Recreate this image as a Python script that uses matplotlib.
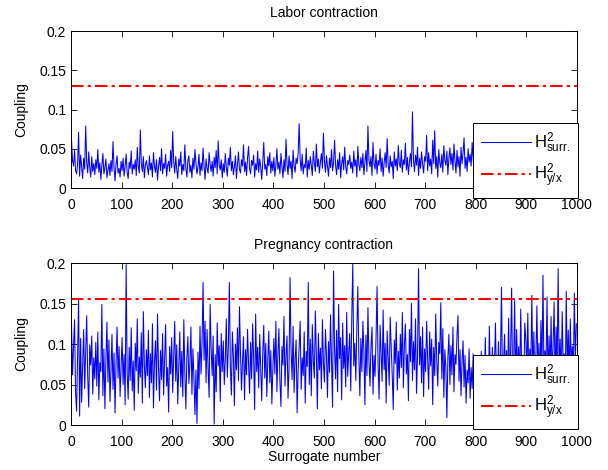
import numpy as np
import matplotlib
matplotlib.use('Agg')
import matplotlib.pyplot as plt
from matplotlib.ticker import FormatStrFormatter

plt.rcParams['font.family'] = ['Liberation Sans', 'DejaVu Sans']
plt.rcParams['mathtext.fontset'] = 'custom'
plt.rcParams['mathtext.rm'] = 'Liberation Sans'
plt.rcParams['mathtext.it'] = 'Liberation Sans'

# surrogate values, every second surrogate (1, 3, 5, ... 999)
surrogate = np.arange(1, 1001, 2)

labor_surr = [
    0.061, 0.035, 0.028, 0.048, 0.022, 0.018, 0.030, 0.071, 0.015, 0.042, 0.027, 0.012, 0.038, 0.024, 0.079, 0.033, 0.019, 0.046, 0.026, 0.014, 0.040, 0.021, 0.031, 0.017, 0.036,
    0.025, 0.049, 0.020, 0.032, 0.011, 0.029, 0.044, 0.018, 0.026, 0.037, 0.013, 0.023, 0.031, 0.016, 0.035, 0.021, 0.059, 0.027, 0.009, 0.030, 0.041, 0.019, 0.025, 0.014, 0.034,
    0.022, 0.038, 0.015, 0.028, 0.043, 0.020, 0.012, 0.033, 0.025, 0.047, 0.018, 0.030, 0.024, 0.036, 0.016, 0.052, 0.027, 0.019, 0.074, 0.031, 0.021, 0.040, 0.013, 0.029, 0.035,
    0.026, 0.017, 0.041, 0.023, 0.032, 0.014, 0.045, 0.028, 0.020, 0.036, 0.010, 0.027, 0.039, 0.022, 0.050, 0.018, 0.031, 0.025, 0.043, 0.015, 0.029, 0.034, 0.021, 0.048, 0.026,
    0.072, 0.033, 0.019, 0.040, 0.024, 0.012, 0.037, 0.028, 0.046, 0.017, 0.030, 0.022, 0.055, 0.026, 0.014, 0.035, 0.041, 0.020, 0.029, 0.013, 0.038, 0.024, 0.049, 0.031, 0.018,
    0.027, 0.043, 0.016, 0.032, 0.022, 0.051, 0.028, 0.011, 0.037, 0.025, 0.019, 0.045, 0.030, 0.021, 0.034, 0.015, 0.039, 0.026, 0.048, 0.018, 0.060, 0.029, 0.023, 0.036, 0.013,
    0.031, 0.020, 0.044, 0.026, 0.015, 0.038, 0.029, 0.052, 0.022, 0.034, 0.017, 0.027, 0.041, 0.012, 0.030, 0.046, 0.024, 0.019, 0.036, 0.028, 0.055, 0.021, 0.033, 0.016, 0.039,
    0.053, 0.025, 0.018, 0.035, 0.029, 0.042, 0.014, 0.031, 0.023, 0.047, 0.020, 0.037, 0.027, 0.011, 0.033, 0.058, 0.024, 0.030, 0.016, 0.040, 0.028, 0.045, 0.019, 0.034, 0.022,
    0.039, 0.015, 0.029, 0.050, 0.024, 0.033, 0.018, 0.044, 0.027, 0.013, 0.036, 0.021, 0.062, 0.030, 0.017, 0.041, 0.025, 0.034, 0.012, 0.048, 0.028, 0.020, 0.038, 0.031, 0.045,
    0.082, 0.036, 0.022, 0.043, 0.018, 0.030, 0.026, 0.051, 0.014, 0.035, 0.024, 0.040, 0.029, 0.016, 0.047, 0.032, 0.021, 0.056, 0.027, 0.037, 0.019, 0.033, 0.044, 0.025, 0.070,
    0.034, 0.020, 0.041, 0.028, 0.015, 0.038, 0.026, 0.049, 0.022, 0.032, 0.061, 0.029, 0.017, 0.036, 0.024, 0.045, 0.013, 0.031, 0.040, 0.023, 0.052, 0.027, 0.018, 0.035, 0.030,
    0.042, 0.025, 0.033, 0.019, 0.047, 0.028, 0.036, 0.014, 0.053, 0.030, 0.022, 0.039, 0.026, 0.044, 0.017, 0.032, 0.048, 0.021, 0.079, 0.035, 0.027, 0.040, 0.016, 0.058, 0.031,
    0.024, 0.043, 0.018, 0.035, 0.029, 0.050, 0.021, 0.038, 0.015, 0.032, 0.045, 0.026, 0.063, 0.030, 0.019, 0.041, 0.027, 0.034, 0.012, 0.046, 0.028, 0.037, 0.022, 0.054, 0.031,
    0.026, 0.048, 0.020, 0.036, 0.030, 0.057, 0.023, 0.039, 0.017, 0.033, 0.044, 0.027, 0.097, 0.035, 0.021, 0.042, 0.029, 0.052, 0.016, 0.038, 0.025, 0.046, 0.031, 0.019, 0.040,
    0.034, 0.067, 0.022, 0.045, 0.028, 0.037, 0.018, 0.061, 0.031, 0.073, 0.025, 0.040, 0.014, 0.049, 0.032, 0.026, 0.043, 0.020, 0.054, 0.035, 0.029, 0.047, 0.017, 0.038, 0.051,
    0.030, 0.044, 0.023, 0.056, 0.034, 0.019, 0.048, 0.027, 0.040, 0.015, 0.052, 0.031, 0.045, 0.064, 0.025, 0.039, 0.021, 0.050, 0.033, 0.043, 0.028, 0.058, 0.036, 0.024, 0.047,
    0.067, 0.035, 0.054, 0.029, 0.046, 0.038, 0.060, 0.026, 0.049, 0.033, 0.041, 0.022, 0.055, 0.037, 0.030, 0.044, 0.019, 0.036, 0.048, 0.027, 0.039, 0.032, 0.051, 0.024, 0.042,
    0.031, 0.045, 0.022, 0.038, 0.028, 0.053, 0.034, 0.017, 0.040, 0.026, 0.047, 0.030, 0.021, 0.036, 0.044, 0.025, 0.058, 0.032, 0.019, 0.041, 0.029, 0.035, 0.050, 0.023, 0.037,
    0.027, 0.043, 0.018, 0.034, 0.049, 0.024, 0.031, 0.039, 0.015, 0.046, 0.028, 0.055, 0.022, 0.035, 0.030, 0.042, 0.020, 0.037, 0.026, 0.048, 0.033, 0.016, 0.040, 0.029, 0.052,
    0.025, 0.038, 0.031, 0.045, 0.019, 0.034, 0.027, 0.050, 0.022, 0.041, 0.030, 0.036, 0.017, 0.044, 0.028, 0.033, 0.047, 0.021, 0.039, 0.026, 0.054, 0.032, 0.024, 0.043, 0.035,
]

pregnancy_surr = [
    0.125, 0.062, 0.098, 0.130, 0.040, 0.017, 0.085, 0.155, 0.011, 0.107, 0.028, 0.071, 0.118, 0.045, 0.090, 0.135, 0.060, 0.022, 0.099, 0.074, 0.110, 0.038, 0.083, 0.057, 0.102,
    0.048, 0.115, 0.031, 0.077, 0.066, 0.149, 0.036, 0.094, 0.020, 0.081, 0.127, 0.053, 0.105, 0.029, 0.068, 0.112, 0.044, 0.089, 0.015, 0.076, 0.121, 0.058, 0.097, 0.035, 0.070,
    0.108, 0.050, 0.087, 0.025, 0.198, 0.064, 0.032, 0.096, 0.055, 0.120, 0.042, 0.079, 0.018, 0.101, 0.067, 0.131, 0.039, 0.084, 0.059, 0.114, 0.027, 0.140, 0.073, 0.046, 0.093,
    0.061, 0.117, 0.034, 0.088, 0.052, 0.125, 0.021, 0.078, 0.104, 0.043, 0.137, 0.069, 0.030, 0.092, 0.056, 0.113, 0.037, 0.082, 0.124, 0.048, 0.071, 0.016, 0.097, 0.063, 0.108,
    0.040, 0.086, 0.128, 0.054, 0.099, 0.026, 0.072, 0.115, 0.047, 0.091, 0.035, 0.130, 0.065, 0.020, 0.083, 0.109, 0.051, 0.075, 0.121, 0.038, 0.094, 0.058, 0.013, 0.068, 0.002,
    0.090, 0.045, 0.122, 0.063, 0.101, 0.176, 0.080, 0.128, 0.052, 0.118, 0.070, 0.034, 0.149, 0.095, 0.061, 0.110, 0.001, 0.087, 0.041, 0.126, 0.073, 0.098, 0.029, 0.113, 0.066,
    0.104, 0.050, 0.082, 0.131, 0.059, 0.096, 0.176, 0.072, 0.037, 0.115, 0.085, 0.024, 0.100, 0.068, 0.120, 0.055, 0.146, 0.090, 0.043, 0.078, 0.109, 0.031, 0.093, 0.062, 0.118,
    0.075, 0.039, 0.102, 0.057, 0.125, 0.084, 0.019, 0.137, 0.066, 0.096, 0.046, 0.112, 0.071, 0.030, 0.089, 0.123, 0.058, 0.101, 0.035, 0.080, 0.116, 0.052, 0.092, 0.026, 0.069,
    0.107, 0.063, 0.128, 0.041, 0.088, 0.119, 0.054, 0.023, 0.097, 0.074, 0.134, 0.048, 0.086, 0.110, 0.033, 0.070, 0.182, 0.092, 0.056, 0.122, 0.040, 0.081, 0.105, 0.015, 0.067,
    0.099, 0.128, 0.044, 0.083, 0.061, 0.115, 0.027, 0.091, 0.072, 0.176, 0.050, 0.106, 0.036, 0.124, 0.079, 0.058, 0.141, 0.087, 0.020, 0.113, 0.068, 0.095, 0.045, 0.130, 0.075,
    0.053, 0.118, 0.086, 0.034, 0.103, 0.065, 0.136, 0.077, 0.022, 0.190, 0.094, 0.057, 0.117, 0.041, 0.149, 0.082, 0.108, 0.031, 0.126, 0.070, 0.098, 0.047, 0.139, 0.060, 0.089,
    0.113, 0.042, 0.132, 0.199, 0.073, 0.101, 0.055, 0.119, 0.171, 0.084, 0.036, 0.107, 0.066, 0.128, 0.090, 0.025, 0.111, 0.061, 0.145, 0.079, 0.048, 0.097, 0.121, 0.038, 0.086,
    0.060, 0.108, 0.171, 0.074, 0.032, 0.123, 0.089, 0.054, 0.142, 0.068, 0.101, 0.027, 0.116, 0.081, 0.049, 0.133, 0.095, 0.062, 0.019, 0.105, 0.076, 0.127, 0.043, 0.091, 0.058,
    0.112, 0.071, 0.139, 0.046, 0.098, 0.125, 0.063, 0.087, 0.030, 0.118, 0.078, 0.150, 0.055, 0.103, 0.068, 0.131, 0.039, 0.085, 0.193, 0.074, 0.109, 0.052, 0.121, 0.035, 0.094,
    0.066, 0.128, 0.082, 0.044, 0.115, 0.073, 0.106, 0.025, 0.096, 0.061, 0.137, 0.079, 0.048, 0.102, 0.088, 0.151, 0.057, 0.119, 0.034, 0.093, 0.070, 0.009, 0.083, 0.112, 0.050,
    0.098, 0.062, 0.121, 0.041, 0.087, 0.075, 0.110, 0.135, 0.054, 0.093, 0.036, 0.078, 0.104, 0.047, 0.086, 0.027, 0.068, 0.052, 0.094, 0.033, 0.071, 0.045, 0.088, 0.024, 0.059,
    0.038, 0.076, 0.029, 0.064, 0.047, 0.091, 0.035, 0.069, 0.052, 0.108, 0.043, 0.085, 0.031, 0.122, 0.057, 0.040, 0.096, 0.049, 0.072, 0.126, 0.061, 0.045, 0.103, 0.055, 0.082,
    0.170, 0.048, 0.074, 0.112, 0.058, 0.092, 0.046, 0.132, 0.063, 0.089, 0.169, 0.051, 0.070, 0.155, 0.042, 0.118, 0.060, 0.097, 0.054, 0.143, 0.066, 0.081, 0.049, 0.126, 0.107,
    0.062, 0.138, 0.052, 0.094, 0.071, 0.160, 0.057, 0.115, 0.045, 0.083, 0.147, 0.063, 0.101, 0.050, 0.129, 0.069, 0.185, 0.056, 0.092, 0.073, 0.158, 0.048, 0.110, 0.066, 0.134,
    0.059, 0.099, 0.152, 0.047, 0.121, 0.070, 0.193, 0.061, 0.106, 0.053, 0.140, 0.075, 0.088, 0.046, 0.165, 0.064, 0.117, 0.055, 0.131, 0.072, 0.097, 0.058, 0.163, 0.081, 0.125,
]

# measured coupling H2 y/x for each recording
labor_yx = 0.13
pregnancy_yx = 0.156

panels = [
    ('Labor contraction', labor_surr, labor_yx, [0.1168, 0.600, 0.832, 0.334], (0.778, 0.738)),
    ('Pregnancy contraction', pregnancy_surr, pregnancy_yx, [0.1168, 0.0957, 0.832, 0.3447], (0.778, 0.245)),
]

fig = plt.figure(figsize=(6.08, 4.70), dpi=100)

for i, (title, surr, yx, rect, leg_pos) in enumerate(panels):
    ax = fig.add_axes(rect)
    ax.plot(surrogate, surr, color='blue', lw=0.75, label=r'$\mathregular{H^2_{surr.}}$')
    ax.axhline(yx, color='red', lw=1.5, ls='-.', dashes=(6, 2, 1.5, 2), label=r'$\mathregular{H^2_{y/x}}$')
    ax.set_xlim(0, 1000)
    ax.set_ylim(0, 0.2)
    ax.set_xticks(np.arange(0, 1001, 100))
    ax.set_yticks([0, 0.05, 0.1, 0.15, 0.2])
    ax.yaxis.set_major_formatter(FormatStrFormatter('%g'))
    ax.tick_params(direction='in', top=True, right=True, length=4, width=0.6, labelsize=10)
    ax.tick_params(axis='x', pad=7)
    for s in ax.spines.values():
        s.set_linewidth(0.7)
    ax.set_title(title, fontsize=10, pad=10)
    ax.set_ylabel('Coupling', fontsize=10, labelpad=8)
    if i == 1:
        ax.set_xlabel('Surrogate number', fontsize=10, labelpad=1)
    leg = ax.legend(loc='upper left', bbox_to_anchor=leg_pos, bbox_transform=fig.transFigure,
                    fontsize=12, fancybox=False, framealpha=1, edgecolor='black',
                    handlelength=3.0, handletextpad=0.2, labelspacing=0.4,
                    borderpad=0.45, borderaxespad=0)
    leg.get_frame().set_linewidth(0.7)
    leg.set_zorder(5)

plt.savefig('out.png', dpi=100)
